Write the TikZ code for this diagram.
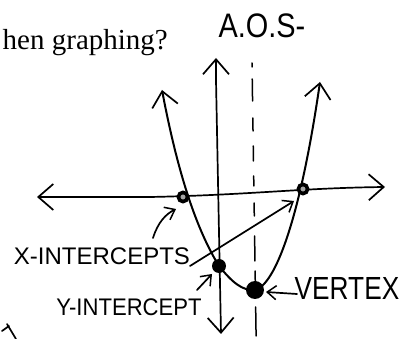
\documentclass[tikz,border=0pt]{standalone}
\usepackage{fontspec}
\setmainfont{Liberation Serif}
\newfontfamily\handfont{Liberation Sans}
\usetikzlibrary{arrows.meta}
\tikzset{
  ink/.style={line width=1.7pt, line cap=round, line join=round, black},
  bigbarb/.style={-{Straight Barb[length=15pt,width=26pt,line width=1.7pt]}},
  smallbarb/.style={-{Straight Barb[length=9pt,width=14pt,line width=1.5pt]}},
  hand/.style={font=\handfont, inner sep=0pt},
  ring/.style={draw=black, line width=3.6pt, fill=black!35},
  dot/.style={fill=black},
}
\begin{document}
\begin{tikzpicture}[x=1pt,y=-1pt]
\useasboundingbox[fill=white] (0,0) rectangle (416,339);
% question text
\node[anchor=base east, inner sep=0pt, font=\fontsize{29}{31}\selectfont] (q) at (168,50) {hen graphing?};
% A.O.S.
\node[hand, font=\handfont\fontsize{34}{36}\selectfont, xscale=0.85] (aos) at (262,26) {A.O.S-};
% coordinates
\coordinate (yt) at (216,58);
\coordinate (yb) at (221,334);
\coordinate (xl) at (37,197);
\coordinate (xr) at (385,187);
\coordinate (pl) at (162,90);
\coordinate (pr) at (320,82);
\coordinate (li) at (183,197);
\coordinate (ri) at (303,189);
\coordinate (yi) at (219,266);
\coordinate (vx) at (255,290);
% axes
\draw[ink, bigbarb] (216,80) -- (yt);
\draw[ink, bigbarb] (216,80) -- (yb);
\draw[ink, bigbarb] (150,197) .. controls (250,195) and (300,188) .. (xr);
\draw[ink, bigbarb] (150,197) -- (xl);
% axis of symmetry (hand-drawn dashes)
\foreach \a/\b in {63/67, 79/101, 118/131, 146/161, 176/186, 203/216, 236/261, 271/283, 307/336}
  \draw[ink, line width=1.5pt] ({252+(\a-63)*0.015},\a) -- ({252+(\b-63)*0.015},\b);
% parabola
\draw[ink, line width=2pt, bigbarb] (yi) .. controls (200,235) and (180,185) .. (pl);
\draw[ink, line width=2pt] (yi) .. controls (232,282) and (242,291) .. (vx);
\draw[ink, line width=2pt, bigbarb] (vx) .. controls (275,285) and (300,220) .. (pr);
% points
\draw[ring] (li) circle (4.6pt);
\draw[ring] (ri) circle (4.6pt);
\fill[dot] (yi) circle (7pt);
\fill[dot] (vx) circle (9pt);
% labels
\node[hand, font=\handfont\fontsize{24}{26}\selectfont] (xlab) at (102,256) {X-INTERCEPTS};
\node[hand, font=\handfont\fontsize{24}{26}\selectfont, xscale=0.92] (ylab) at (129,307) {Y-INTERCEPT};
\node[hand, font=\handfont\fontsize{32}{34}\selectfont, xscale=0.82] (vlab) at (347,288) {VERTEX};
% label arrows
\coordinate (xa1) at (153,238);
\coordinate (xa1t) at (176,209);
\coordinate (xa2) at (190,266);
\coordinate (xa2t) at (294,201);
\coordinate (ya) at (197,290);
\coordinate (yat) at (212,274);
\coordinate (va) at (297,294);
\coordinate (vat) at (266,292);
\draw[ink, smallbarb] (xa1) .. controls (158,222) and (166,214) .. (xa1t);
\draw[ink, smallbarb] (xa2) -- (xa2t);
\draw[ink, smallbarb] (ya) -- (yat);
\draw[ink, smallbarb] (va) -- (vat);
% partial scribble at the lower left
\draw[ink] (2,331) -- (9,326);
\draw[ink] (7,324) -- (16,339);
\end{tikzpicture}
\end{document}
